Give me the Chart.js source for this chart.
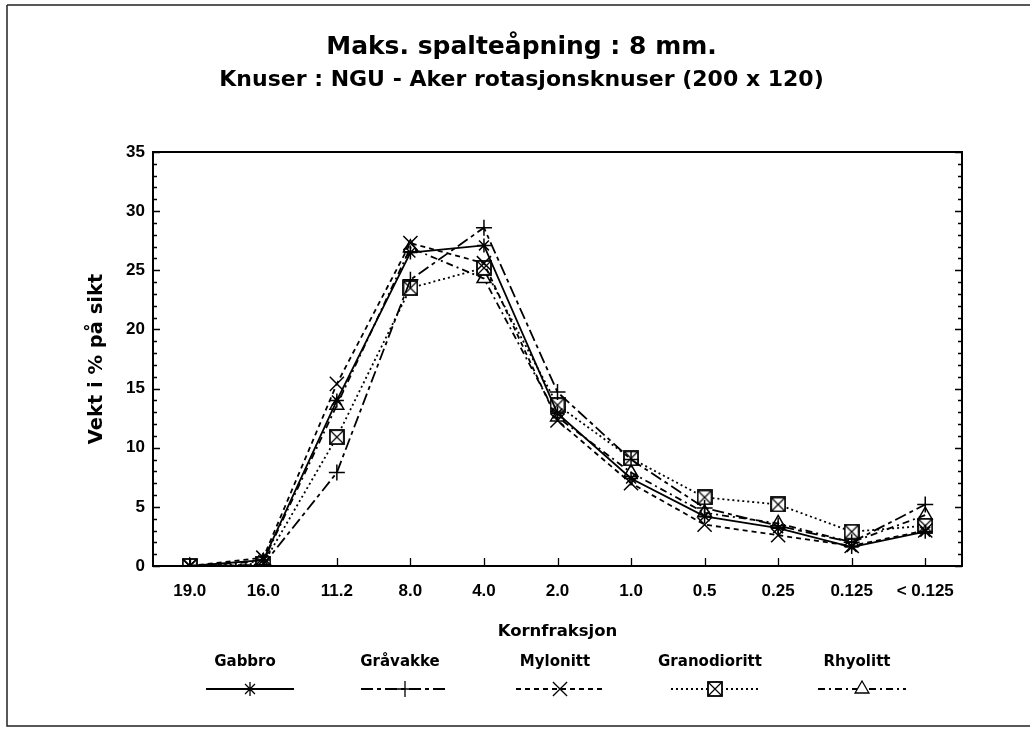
<!DOCTYPE html>
<html><head><meta charset="utf-8">
<script src="https://cdn.jsdelivr.net/npm/chart.js@4.4.0/dist/chart.umd.min.js"></script>
<style>html,body{margin:0;padding:0;background:#fff}#wrap{width:1035px;height:731px}</style>
</head><body><div id="wrap"><canvas id="c" width="1035" height="731"></canvas></div>
<script>
// ---- data ----
const categories = ['19.0','16.0','11.2','8.0','4.0','2.0','1.0','0.5','0.25','0.125','< 0.125'];
const seriesNames = ['Gabbro','Gråvakke','Mylonitt','Granodioritt','Rhyolitt'];
const gabbro       = [0, 0.5, 14.0, 26.5, 27.1, 12.9, 7.4, 4.2, 3.2, 1.6, 2.9];
const gravakke     = [0, 0.1,  7.9, 24.2, 28.6, 14.7, 9.0, 4.9, 3.4, 2.0, 5.2];
const mylonitt     = [0, 0.7, 15.4, 27.3, 25.6, 12.3, 7.0, 3.5, 2.6, 1.7, 3.0];
const granodioritt = [0, 0.2, 10.9, 23.5, 25.2, 13.6, 9.1, 5.8, 5.2, 2.9, 3.4];
const rhyolitt     = [0, 0.4, 13.6, 26.9, 24.3, 12.6, 7.9, 4.5, 3.6, 2.0, 4.3];
const yMin = 0, yMax = 35, yStep = 5;
const titleText = 'Maks. spalteåpning : 8 mm.';
const subtitleText = 'Knuser : NGU - Aker rotasjonsknuser (200 x 120)';
const xTitle = 'Kornfraksjon';
const yTitle = 'Vekt i % på sikt';

const FONT = "'Liberation Sans', Arial, Helvetica, sans-serif";
const WIDE = "'DejaVu Sans', 'Liberation Sans', sans-serif";
Chart.defaults.font.family = FONT;
Chart.defaults.color = '#000';

function makeBoxX(size){
  const c = document.createElement('canvas'); c.width = c.height = size;
  const g = c.getContext('2d');
  g.fillStyle = '#fff'; g.fillRect(1,1,size-2,size-2);
  g.strokeStyle = '#000'; g.lineWidth = 1.8;
  g.strokeRect(1,1,size-2,size-2);
  g.lineWidth = 1.2;
  g.beginPath(); g.moveTo(2,2); g.lineTo(size-2,size-2); g.moveTo(size-2,2); g.lineTo(2,size-2); g.stroke();
  return c;
}
const boxX = makeBoxX(16);

const styles = [
  {dash: [], point: 'star', r: 7},
  {dash: [12,4,4,4], point: 'cross', r: 8},
  {dash: [5,4], point: 'crossRot', r: 10},
  {dash: [2,3], point: boxX, r: 8},
  {dash: [7,4,2,4], point: 'triangle', r: 8}
];
const seriesData = [gabbro, gravakke, mylonitt, granodioritt, rhyolitt];

const datasets = seriesNames.map((n,i)=>({
  label: n,
  data: seriesData[i],
  borderColor: '#000',
  backgroundColor: 'rgba(0,0,0,0)',
  borderWidth: 1.8,
  borderDash: styles[i].dash,
  pointStyle: styles[i].point,
  pointRadius: styles[i].r,
  pointBorderWidth: 1.5,
  pointBorderColor: '#000',
  pointBackgroundColor: 'rgba(0,0,0,0)',
  tension: 0,
  fill: false
}));

const decor = {
  id: 'decor',
  beforeDraw(chart){
    const ctx = chart.ctx;
    ctx.save();
    ctx.fillStyle = '#fff'; ctx.fillRect(0,0,chart.width,chart.height);
    ctx.strokeStyle = '#222'; ctx.lineWidth = 1.5;
    ctx.beginPath();
    ctx.moveTo(7,5); ctx.lineTo(1030,5);
    ctx.moveTo(7,5); ctx.lineTo(7,726);
    ctx.lineTo(1030,726);
    ctx.stroke();
    ctx.restore();
  },
  afterDraw(chart){
    const ctx = chart.ctx, a = chart.chartArea;
    const ys = chart.scales.y, xs = chart.scales.x;
    ctx.save();
    ctx.strokeStyle = '#000'; ctx.lineWidth = 2;
    ctx.strokeRect(a.left, a.top, a.right-a.left, a.bottom-a.top);
    ctx.lineWidth = 1.3;
    ctx.beginPath();
    for (let v = yMin; v <= yMax; v++){
      const py = Math.round(ys.getPixelForValue(v)) + 0.5;
      const len = (v % yStep === 0) ? 7 : 4;
      ctx.moveTo(a.left, py); ctx.lineTo(a.left+len, py);
      ctx.moveTo(a.right, py); ctx.lineTo(a.right-len, py);
    }
    for (let i = 0; i < categories.length; i++){
      const px = Math.round(xs.getPixelForTick(i)) + 0.5;
      ctx.moveTo(px, a.bottom); ctx.lineTo(px, a.bottom-8);
    }
    ctx.stroke();

    // legend
    const lx = [250, 405, 560, 715, 862];
    const ty = 662, ly = 689;
    ctx.font = 'bold 15px ' + WIDE;
    ctx.textAlign = 'center'; ctx.textBaseline = 'middle';
    chart.data.datasets.forEach((ds,i)=>{
      const x = lx[i];
      ctx.fillStyle = '#000';
      ctx.fillText(ds.label, x - 5, ty);
      ctx.save();
      ctx.lineWidth = 1.8; ctx.setLineDash(ds.borderDash);
      ctx.beginPath(); ctx.moveTo(x-44, ly); ctx.lineTo(x+44, ly); ctx.stroke();
      ctx.restore();
      ctx.save();
      ctx.fillStyle = '#fff'; ctx.strokeStyle = '#000';
      Chart.helpers.drawPoint(ctx, {pointStyle: ds.pointStyle, radius: ds.pointRadius, rotation: 0, borderWidth: 1.5}, x, ly);
      ctx.restore();
    });
    ctx.restore();
  }
};

new Chart(document.getElementById('c'), {
  type: 'line',
  data: { labels: categories, datasets },
  options: {
    responsive: false, animation: false, devicePixelRatio: 1,
    layout: { padding: { left: 81, right: 73, top: 0, bottom: 85 } },
    plugins: {
      legend: { display: false },
      tooltip: { enabled: false },
      title: { display: true, text: titleText, color: '#000',
        font: { family: WIDE, size: 25, weight: 'bold' }, padding: { top: 32, bottom: 5 } },
      subtitle: { display: true, text: subtitleText, color: '#000',
        font: { family: WIDE, size: 22, weight: 'bold' }, padding: { top: 0, bottom: 58.6 } }
    },
    scales: {
      x: {
        type: 'category', offset: true,
        grid: { display: false }, border: { display: false },
        ticks: { font: { size: 17, weight: 'bold' }, color: '#000', padding: 7, maxRotation: 0, autoSkip: false },
        title: { display: true, text: xTitle, color: '#000', font: { family: WIDE, size: 16.5, weight: 'bold' }, padding: { top: 8, bottom: 4 } },
        afterFit: s => { s.height = 80; }
      },
      y: {
        min: yMin, max: yMax,
        grid: { display: false }, border: { display: false },
        ticks: { stepSize: yStep, font: { size: 17, weight: 'bold' }, color: '#000', padding: 0 },
        title: { display: true, text: yTitle, color: '#000', font: { family: WIDE, size: 19.5, weight: 'bold' }, padding: { top: 4, bottom: 4 } },
        afterFit: s => { s.width = 72; }
      }
    }
  },
  plugins: [decor]
});
</script></body></html>
